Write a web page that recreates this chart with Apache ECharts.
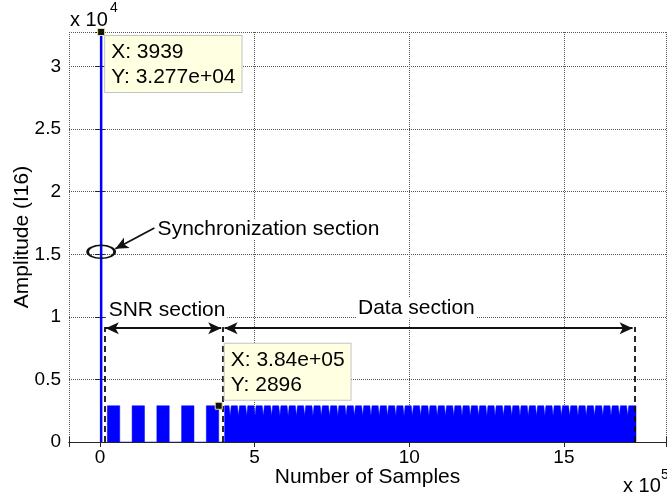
<!DOCTYPE html>
<html>
<head>
<meta charset="utf-8">
<script src="https://cdn.jsdelivr.net/npm/echarts@6/dist/echarts.min.js"></script>
<style>
html, body { margin: 0; padding: 0; background: #fff; }
#chart { width: 667px; height: 499px; }
</style>
</head>
<body>
<div id="chart"></div>
<script>
// axis ranges (samples / I16 amplitude)
var xRange = [-100000, 1830000];
var yRange = [0, 32767];

// synchronization spike
var syncX = 3939;
var syncPeak = 32767;

// SNR section: 5 blocks
var snrStart = [24000, 104000, 184000, 264000, 344000];
var snrEnd = [64000, 144000, 224000, 304000, 384000];
var level = 2896;

// data section, with short dips between frames
var dataStart = 403000;
var dataEnd = 1733000;
var notchX = [421000, 447800, 474500, 501300, 528100, 554900, 581600, 608400, 635200, 661900,
	688700, 715500, 742200, 769000, 795800, 822600, 849300, 876100, 902900, 929600,
	956400, 983200, 1009900, 1036700, 1063500, 1090300, 1117000, 1143800, 1170600, 1197300,
	1224100, 1250900, 1277600, 1304400, 1331200, 1358000, 1384700, 1411500, 1438300, 1465000,
	1491800, 1518600, 1545300, 1572100, 1598900, 1625700, 1652400, 1679200, 1706000];
var notchLevel = 2100;
var notchHalf = 3500;

// annotations
var boundX = [14500, 397000, 1728000];
var boundTop = 9200;
var arrowY = 9100;
var snrArrow = [19000, 392000];
var dataArrow = [403000, 1722000];
var syncArrow = [[176000, 17100], [50000, 15440]];
var ellipseAt = [syncX, 15200];
var tip2 = [384000, 2896];

var font = 'Liberation Sans';

var signal = [];
snrStart.forEach(function (s, i) {
	signal.push([s, 0], [s, level], [snrEnd[i], level], [snrEnd[i], 0]);
});
signal.push([dataStart, 0], [dataStart, level]);
notchX.forEach(function (n) {
	signal.push([n - notchHalf, level], [n, notchLevel], [n + notchHalf, level]);
});
signal.push([dataEnd, level], [dataEnd, 0]);

var axisColor = '#262626';
var tipLabel = {
	show: true,
	color: '#000',
	fontFamily: font,
	fontSize: 21,
	lineHeight: 25,
	backgroundColor: '#ffffe1',
	borderColor: '#c4c4c4',
	borderWidth: 1,
	padding: [4, 6, 2, 6],
	align: 'left',
	verticalAlign: 'top'
};
var textLabel = {
	show: true,
	position: 'inside',
	color: '#000',
	fontFamily: font,
	fontSize: 21,
	backgroundColor: '#fff',
	padding: [0, 2]
};

var chart = echarts.init(document.getElementById('chart'));
chart.setOption({
	animation: false,
	backgroundColor: '#fff',
	grid: { left: 69, right: 1, top: 32, bottom: 57, outerBoundsMode: 'none', containLabel: false },
	xAxis: [{
		type: 'value',
		min: xRange[0],
		max: xRange[1],
		splitNumber: 4,
		name: 'Number of Samples',
		nameLocation: 'middle',
		nameGap: 25,
		nameMoveOverlap: false,
		nameTextStyle: { fontFamily: font, fontSize: 21, color: '#000' },
		axisLine: { show: true, lineStyle: { color: axisColor, width: 1 } },
		axisTick: { show: true, inside: true, length: 5, lineStyle: { color: axisColor } },
		axisLabel: {
			fontFamily: font, fontSize: 19, color: '#000', margin: 6,
			formatter: function (v) { return v % 500000 === 0 ? String(v / 100000) : ''; }
		},
		splitLine: { show: true, lineStyle: { type: 'dotted', color: '#555', width: 1 } }
	}, {
		type: 'value',
		position: 'top',
		min: xRange[0],
		max: xRange[1],
		splitNumber: 4,
		axisLine: { show: true, lineStyle: { color: axisColor, width: 1 } },
		axisTick: { show: true, inside: true, length: 5, lineStyle: { color: axisColor } },
		axisLabel: { show: false },
		splitLine: { show: false }
	}],
	yAxis: [{
		type: 'value',
		min: yRange[0],
		max: yRange[1],
		interval: 5000,
		name: 'Amplitude (I16)',
		nameLocation: 'middle',
		nameGap: 36,
		nameMoveOverlap: false,
		nameTextStyle: { fontFamily: font, fontSize: 21, color: '#000' },
		axisLine: { show: true, lineStyle: { color: axisColor, width: 1 } },
		axisTick: { show: true, inside: true, length: 5, lineStyle: { color: axisColor } },
		axisLabel: {
			fontFamily: font, fontSize: 19, color: '#000', margin: 8,
			formatter: function (v) { return v % 5000 === 0 ? String(v / 10000) : ''; }
		},
		splitLine: { show: true, lineStyle: { type: 'dotted', color: '#555', width: 1 } }
	}, {
		type: 'value',
		position: 'right',
		min: yRange[0],
		max: yRange[1],
		interval: 5000,
		axisLine: { show: true, lineStyle: { color: axisColor, width: 1 } },
		axisTick: { show: true, inside: true, length: 5, lineStyle: { color: axisColor } },
		axisLabel: { show: false },
		splitLine: { show: false }
	}],
	graphic: [
		{ type: 'text', left: 70, top: 10, style: { text: 'x 10', font: '20px "Liberation Sans"', fill: '#000' } },
		{ type: 'text', left: 110, top: 1, style: { text: '4', font: '14px "Liberation Sans"', fill: '#000' } },
		{ type: 'text', left: 623, top: 476, style: { text: 'x 10', font: '20px "Liberation Sans"', fill: '#000' } },
		{ type: 'text', left: 661, top: 468, style: { text: '5', font: '14px "Liberation Sans"', fill: '#000' } }
	],
	series: [{
		name: 'signal',
		type: 'line',
		data: signal,
		showSymbol: false,
		silent: true,
		lineStyle: { color: '#0000ff', width: 0.5 },
		areaStyle: { color: '#0000ff', opacity: 1 },
		markPoint: {
			silent: true,
			data: [{
				coord: tip2,
				symbol: 'rect',
				symbolSize: 7,
				itemStyle: { color: '#111', borderColor: '#e8dfa0', borderWidth: 1 },
				label: echarts.util.extend({ position: [10, -58], formatter: 'X: 3.84e+05\nY: 2896' }, tipLabel)
			}]
		}
	}, {
		name: 'sync',
		type: 'line',
		data: [[syncX, 0], [syncX, syncPeak]],
		showSymbol: false,
		silent: true,
		lineStyle: { color: '#0000ff', width: 2.5 },
		markPoint: {
			silent: true,
			data: [{
				coord: [syncX, syncPeak],
				symbol: 'rect',
				symbolSize: 7,
				itemStyle: { color: '#111', borderColor: '#e8dfa0', borderWidth: 1 },
				label: echarts.util.extend({ position: [8, 8], formatter: 'X: 3939\nY: 3.277e+04' }, tipLabel)
			}, {
				coord: ellipseAt,
				symbol: 'circle',
				symbolSize: [27, 13],
				itemStyle: { color: 'rgba(0,0,0,0)', borderColor: '#111', borderWidth: 2 },
				label: { show: false }
			}, {
				coord: [217000, 10560],
				symbolSize: 0,
				label: echarts.util.extend({ formatter: 'SNR section' }, textLabel)
			}, {
				coord: [1023000, 10700],
				symbolSize: 0,
				label: echarts.util.extend({ formatter: 'Data section' }, textLabel)
			}, {
				coord: [545000, 17000],
				symbolSize: 0,
				label: echarts.util.extend({ formatter: 'Synchronization section' }, textLabel)
			}]
		}
	}, {
		name: 'bounds',
		type: 'line',
		data: [],
		silent: true,
		markLine: {
			silent: true,
			symbol: ['none', 'none'],
			label: { show: false },
			lineStyle: { color: '#111', type: [6, 4], width: 1.8 },
			data: boundX.map(function (x) {
				return [{ coord: [x, 0] }, { coord: [x, boundTop] }];
			})
		}
	}, {
		name: 'arrows',
		type: 'line',
		data: [],
		silent: true,
		markLine: {
			silent: true,
			symbol: ['arrow', 'arrow'],
			symbolSize: [9, 13],
			label: { show: false },
			lineStyle: { color: '#111', type: 'solid', width: 1.8 },
			data: [
				[{ coord: [snrArrow[0], arrowY] }, { coord: [snrArrow[1], arrowY] }],
				[{ coord: [dataArrow[0], arrowY] }, { coord: [dataArrow[1], arrowY] }]
			]
		}
	}, {
		name: 'syncArrow',
		type: 'line',
		data: [],
		silent: true,
		markLine: {
			silent: true,
			symbol: ['none', 'arrow'],
			symbolSize: [9, 13],
			label: { show: false },
			lineStyle: { color: '#111', type: 'solid', width: 1.8 },
			data: [[{ coord: syncArrow[0] }, { coord: syncArrow[1] }]]
		}
	}]
});
</script>
</body>
</html>
